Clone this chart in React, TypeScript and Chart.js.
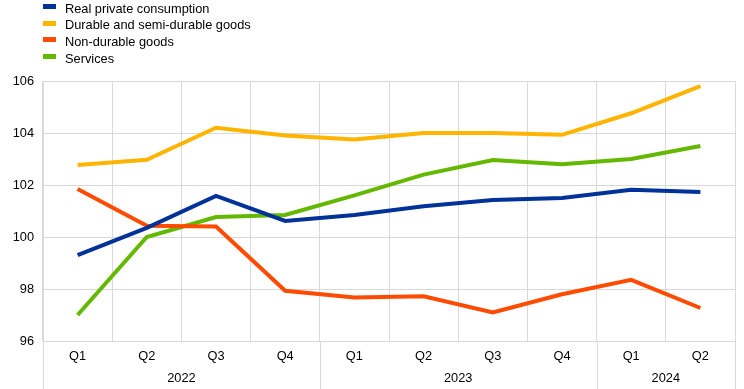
import React, { useEffect, useRef } from "react";
import { Chart, registerables } from "chart.js";

Chart.register(...registerables);

const quarters = ["Q1", "Q2", "Q3", "Q4", "Q1", "Q2", "Q3", "Q4", "Q1", "Q2"];
const years = ["2022", "2022", "2022", "2022", "2023", "2023", "2023", "2023", "2024", "2024"];

const realPrivateConsumption = [99.3, 100.35, 101.58, 100.62, 100.85, 101.18, 101.42, 101.5, 101.82, 101.73];
const durableGoods = [102.77, 102.97, 104.2, 103.9, 103.75, 104.0, 104.0, 103.93, 104.76, 105.8];
const nonDurableGoods = [101.85, 100.43, 100.4, 97.93, 97.67, 97.72, 97.1, 97.8, 98.35, 97.27];
const services = [97.0, 100.0, 100.77, 100.85, 101.6, 102.4, 102.96, 102.8, 103.0, 103.5];

const seriesNames = ["Real private consumption", "Durable and semi-durable goods", "Non-durable goods", "Services"];
const seriesColors = ["#003299", "#FFB400", "#FF4B00", "#65B800"];
const seriesData = [realPrivateConsumption, durableGoods, nonDurableGoods, services];

const yTicks = [96, 98, 100, 102, 104, 106];

const FONT = "Arial, 'Liberation Sans', sans-serif";
const FONT_SIZE = 12.8;
const GRID = "#d9d9d9";

const yearPlugin = {
  id: "yearGroups",
  afterDraw(chart: any) {
    const x = chart.scales.x;
    const ctx = chart.ctx;
    const area = chart.chartArea;
    const half = (x.getPixelForValue(1) - x.getPixelForValue(0)) / 2;
    const groups: { label: string; start: number; end: number }[] = [];
    years.forEach((y, i) => {
      const last = groups[groups.length - 1];
      if (last && last.label === y) last.end = i;
      else groups.push({ label: y, start: i, end: i });
    });
    ctx.save();
    ctx.strokeStyle = GRID;
    ctx.lineWidth = 1;
    const bounds: number[] = [];
    groups.forEach((g) => {
      bounds.push(x.getPixelForValue(g.start) - half);
    });
    const lastG = groups[groups.length - 1];
    bounds.push(x.getPixelForValue(lastG.end) + half);
    bounds.forEach((b) => {
      const px = Math.round(b) + 0.5;
      ctx.beginPath();
      ctx.moveTo(px, area.bottom);
      ctx.lineTo(px, chart.height);
      ctx.stroke();
    });
    ctx.fillStyle = "#000";
    ctx.font = FONT_SIZE + "px " + FONT;
    ctx.textAlign = "center";
    ctx.textBaseline = "middle";
    groups.forEach((g) => {
      const l = x.getPixelForValue(g.start) - half;
      const r = x.getPixelForValue(g.end) + half;
      ctx.fillText(g.label, (l + r) / 2, 378);
    });
    ctx.restore();
  },
};

export default function App() {
  const ref = useRef<HTMLCanvasElement | null>(null);

  useEffect(() => {
    document.body.style.margin = "0";
    if (!ref.current) return;
    const chart = new Chart(ref.current, {
      type: "line",
      data: {
        labels: quarters,
        datasets: seriesData.map((d, i) => ({
          label: seriesNames[i],
          data: d,
          borderColor: seriesColors[i],
          backgroundColor: seriesColors[i],
          borderWidth: 4,
          pointRadius: 0,
          tension: 0,
          fill: false,
        })),
      },
      options: {
        animation: false,
        responsive: true,
        maintainAspectRatio: false,
        layout: { padding: { top: 81, right: 9, left: 0, bottom: 0 } },
        plugins: {
          legend: { display: false },
          tooltip: { enabled: false },
        },
        scales: {
          x: {
            offset: true,
            grid: { offset: true, color: GRID, drawTicks: false },
            border: { color: GRID },
            ticks: { color: "#000", font: { size: FONT_SIZE, family: FONT }, padding: 8, maxRotation: 0 },
            afterFit(scale: any) {
              scale.height = 48;
            },
          },
          y: {
            min: 96,
            max: 106,
            afterBuildTicks(scale: any) {
              scale.ticks = yTicks.map((v) => ({ value: v }));
            },
            grid: { color: GRID, drawTicks: false },
            border: { color: GRID },
            ticks: { color: "#000", font: { size: FONT_SIZE, family: FONT }, padding: 9 },
            afterFit(scale: any) {
              scale.width = 43;
            },
          },
        },
      },
      plugins: [yearPlugin],
    });
    return () => chart.destroy();
  }, []);

  return (
    <div style={{ position: "absolute", left: 0, top: 0, width: 744, height: 389, background: "#fff" }}>
      <canvas ref={ref} />
      <div style={{ position: "absolute", left: 43, top: 0, fontFamily: FONT, fontSize: FONT_SIZE, color: "#000" }}>
        {seriesNames.map((n, i) => (
          <div key={n} style={{ position: "absolute", top: i * 16.7, left: 0, whiteSpace: "nowrap", height: 16, lineHeight: "15px" }}>
            <span style={{ position: "absolute", left: 0, top: 4, width: 13, height: 5, background: seriesColors[i] }} />
            <span style={{ position: "absolute", left: 22, top: 0.5 }}>{n}</span>
          </div>
        ))}
      </div>
    </div>
  );
}
